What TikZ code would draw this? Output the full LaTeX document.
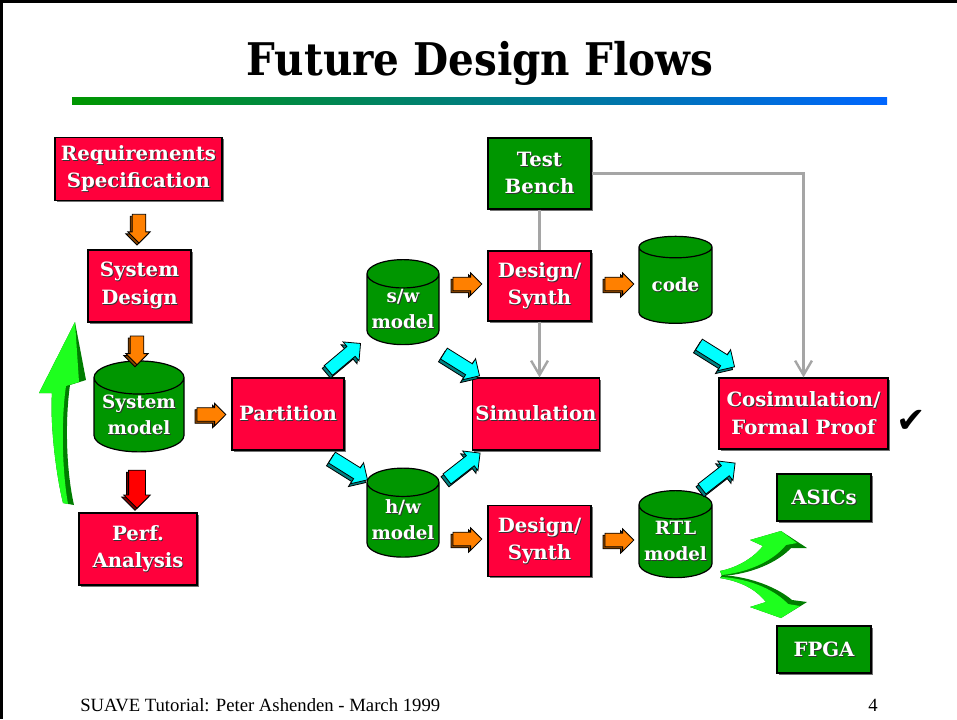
\documentclass[tikz,border=0pt]{standalone}
\usepackage{fontspec}
\setmainfont{DejaVu Serif}
\newfontfamily\titlefamily{DejaVu Serif Condensed}
\newfontfamily\footfamily{Liberation Serif}
\newfontfamily\symfamily{DejaVu Sans}
\usetikzlibrary{positioning,calc,shapes.geometric,shapes.arrows,shadows,arrows.meta}

\definecolor{boxred}{RGB}{255,0,60}
\definecolor{boxgreen}{RGB}{0,150,0}
\definecolor{arrorange}{RGB}{255,128,0}
\definecolor{arrcyan}{RGB}{0,255,255}
\definecolor{arrred}{RGB}{255,0,0}
\definecolor{litegreen}{RGB}{30,255,30}
\definecolor{darkgreen}{RGB}{0,125,0}
\definecolor{linegray}{RGB}{165,165,165}
\definecolor{barblue}{RGB}{0,102,255}

\newcommand{\boxfont}{\bfseries\fontsize{14}{19.5}\selectfont}
\newcommand{\cylfont}{\bfseries\fontsize{13}{18.5}\selectfont}
\newcommand{\shtxt}[1]{\makebox[0pt][l]{\hspace{0.6pt}\raisebox{-0.6pt}{\color{black!80}#1}}#1}

\tikzset{
  redbox/.style={draw=black, line width=0.3mm, fill=boxred, text=white, font=\boxfont,
    align=center, inner sep=0pt,
    drop shadow={shadow xshift=0.4mm, shadow yshift=-0.4mm, fill=black!55, opacity=1}},
  greenbox/.style={redbox, fill=boxgreen},
  cyl/.style={cylinder, shape border rotate=90, aspect=0.45, draw=black, line width=0.3mm,
    fill=boxgreen, text=white, font=\cylfont, align=center, inner sep=0pt},
  barrow/.style={single arrow, draw=black, line width=0.2mm, inner xsep=0pt,
    single arrow tip angle=90},
  oarrow/.style={barrow, fill=arrorange, minimum height=7.2mm, inner ysep=1.6mm,
    single arrow head extend=1.1mm,
    general shadow={shadow xshift=-0.5mm, shadow yshift=-0.5mm, fill=arrorange!55!black,
      draw=black, line width=0.2mm}},
  rarrow/.style={barrow, fill=arrred, minimum height=9.5mm, inner ysep=2mm,
    single arrow head extend=1.2mm,
    general shadow={shadow xshift=-0.5mm, shadow yshift=-0.5mm, fill=arrred!50!black,
      draw=black, line width=0.2mm}},
  carrow/.style={barrow, fill=arrcyan, minimum height=10.5mm, inner ysep=1.5mm,
    single arrow head extend=1.5mm,
    general shadow={shadow xshift=-0.5mm, shadow yshift=-0.7mm, fill=arrcyan!50!black,
      draw=black, line width=0.2mm}},
  grayline/.style={draw=linegray, line width=0.6mm},
  graytip/.style={-{Straight Barb[length=3.6mm, width=4.2mm, line width=0.6mm]}}
}

\begin{document}
\begin{tikzpicture}[x=0.25mm, y=-0.25mm]

\useasboundingbox (0,0) rectangle (957,719);

% frame and title
\draw[line width=0.75mm] (957,1) -- (1,1) -- (1,719);
\node[font=\titlefamily\bfseries\fontsize{32}{36}\selectfont] (title) at (480,63) {Future Design Flows};
\shade[left color=boxgreen, right color=barblue] (72,97) rectangle (887,104);

% left column
\node[redbox, minimum width=41.75mm, minimum height=15.75mm] (req) at (138.5,169) {\shtxt{Requirements}\\\shtxt{Specification}};
\node[redbox, minimum width=25.75mm, minimum height=18mm] (sysdes) at (139.5,286) {\shtxt{System}\\\shtxt{Design}};
\node[cyl, minimum width=22.5mm, minimum height=21.75mm] (sysmod) at (139,415) {\shtxt{System}\\\shtxt{model}};
\node[redbox, minimum width=29.5mm, minimum height=18mm] (perf) at (138,549) {\shtxt{Perf.}\\\shtxt{Analysis}};

% partition and models
\node[redbox, minimum width=28mm, minimum height=18mm] (part) at (288,414) {\shtxt{Partition}};
\node[cyl, minimum width=18mm, minimum height=21.25mm] (sw) at (403,309.5) {\shtxt{s/w}\\\shtxt{model}};
\node[cyl, minimum width=18mm, minimum height=22.25mm] (hw) at (403,520) {\shtxt{h/w}\\\shtxt{model}};
\node[redbox, minimum width=31.75mm, minimum height=18mm] (sim) at (536,414) {\shtxt{Simulation}};

% synthesis branch
\node[greenbox, minimum width=25.75mm, minimum height=17.75mm] (tb) at (539.5,173.5) {\shtxt{Test}\\\shtxt{Bench}};
\node[redbox, minimum width=25.75mm, minimum height=17.5mm] (ds1) at (539.5,286) {\shtxt{Design/}\\\shtxt{Synth}};
\node[redbox, minimum width=25.75mm, minimum height=17.75mm] (ds2) at (539.5,541) {\shtxt{Design/}\\\shtxt{Synth}};
\node[cyl, minimum width=18.25mm, minimum height=21.75mm] (code) at (675.5,285.5) {\shtxt{code}};
\node[cyl, minimum width=18.25mm, minimum height=21.75mm] (rtl) at (675.5,541.5) {\shtxt{RTL}\\\shtxt{model}};
\node[redbox, minimum width=42.25mm, minimum height=17.75mm] (cosim) at (803.5,413.5) {\shtxt{Cosimulation/}\\\shtxt{Formal Proof}};
\node[greenbox, line width=0.7mm, minimum width=23.5mm, minimum height=11.75mm] (asic) at (824,497.5) {\shtxt{ASICs}};
\node[greenbox, line width=0.7mm, minimum width=23.5mm, minimum height=11.75mm] (fpga) at (824,649.5) {\shtxt{FPGA}};
\node[font=\symfamily\fontsize{25}{25}\selectfont] (check) at (911,421) {✔};

% block arrows
\node[oarrow, rotate=-90] (a1) at ($(req.south)!.5!(sysdes.north)$) {};
\node[oarrow, rotate=-90] (a2) at (137,347) {};
\node[rarrow, rotate=-90] (a3) at (137,485) {};
\node[oarrow] (a4) at ($(sysmod.east)!.5!(part.west)$) {};
\node[oarrow] (a5) at (464,284) {};
\node[oarrow] (a6) at (616,284) {};
\node[oarrow] (a7) at (464,539) {};
\node[oarrow] (a8) at (616,540) {};
\node[carrow, rotate=40] (c1) at (342,359) {};
\node[carrow, rotate=-32] (c2) at (347,467) {};
\node[carrow, rotate=-32] (c3) at (459,363) {};
\node[carrow, rotate=38] (c4) at (461,468) {};
\node[carrow, rotate=-32] (c5) at (714,354) {};
\node[carrow, rotate=38] (c6) at (716,478) {};

% test bench lines
\path[grayline] (tb) -- (ds1);
\path[grayline, graytip] (ds1.south) -- (ds1.south |- sim.north);
\path[grayline, graytip] (tb.east) -| (cosim.north);

% big green arrows
\fill[darkgreen] (75,322) -- (86,380) -- (70,385) .. controls (65,420) and (66,470) .. (74,505)
  -- (63,503) .. controls (55,470) and (50,420) .. (52,393) -- (39,393) -- cycle;
\fill[litegreen] (75,322) -- (79,382) -- (66,386) .. controls (61,420) and (62,470) .. (68,504)
  -- (63,503) .. controls (55,470) and (50,420) .. (52,393) -- (39,393) -- cycle;

\fill[darkgreen] (720,571) .. controls (740,567) and (755,556) .. (763,546) -- (750,540) -- (781,531)
  -- (807,548) -- (791,548) .. controls (778,562) and (752,574) .. (722,576) -- cycle;
\fill[litegreen] (720,571) .. controls (740,567) and (755,556) .. (763,546) -- (750,540) -- (781,531)
  -- (797,543) -- (786,545) .. controls (774,560) and (750,572) .. (722,575) -- cycle;

\fill[darkgreen] (720,578) .. controls (745,582) and (758,592) .. (766,602) -- (750,607) -- (781,618)
  -- (807,602) -- (792,600) .. controls (778,588) and (752,577) .. (722,575) -- cycle;
\fill[litegreen] (720,578) .. controls (745,582) and (758,592) .. (766,602) -- (750,607) -- (781,618)
  -- (800,606) -- (788,604) .. controls (776,591) and (752,579) .. (722,577) -- cycle;

% footer
\node[font=\footfamily\fontsize{13.3}{15}\selectfont, anchor=base west, inner sep=0pt] (foot) at (80,711) {SUAVE Tutorial: Peter Ashenden - March 1999};
\node[font=\footfamily\fontsize{13.3}{15}\selectfont, anchor=base east, inner sep=0pt] (page) at (878,711) {4};

\end{tikzpicture}
\end{document}
